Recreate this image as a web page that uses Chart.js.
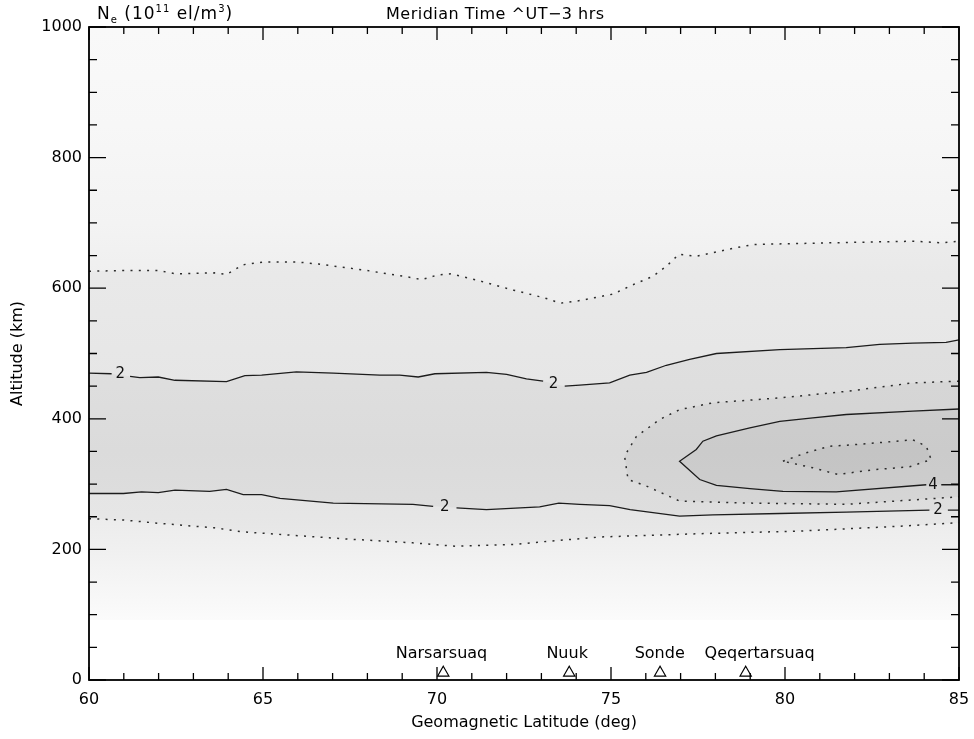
<!DOCTYPE html>
<html>
<head>
<meta charset="utf-8">
<script src="https://cdn.jsdelivr.net/npm/chart.js@4.4.0/dist/chart.umd.min.js"></script>
<style>
  html, body { margin: 0; padding: 0; background: #fff; }
</style>
</head>
<body>
<canvas id="chart" width="974" height="739"></canvas>
<script>
// axis ticks
const xTicks = [60, 65, 70, 75, 80, 85];
const yTicks = [0, 200, 400, 600, 800, 1000];

// model grid extent (lat, km)
const fieldLat = [60, 85];
const fieldKm = [92, 1000];

// contour lines: [lat, km], null km = gap for the label
const contour1Upper = [[60, 626], [61, 627], [62, 627], [62.5, 622], [63.6, 623.5], [63.95, 621], [64.43, 636],
  [65, 640], [66, 640], [66.6, 637], [68, 627], [69.3, 616], [69.55, 613], [70, 620], [70.4, 622], [71.1, 613],
  [72.2, 597], [73.1, 585], [73.55, 577], [74.1, 581], [75.06, 591], [75.7, 607], [76.2, 618], [76.6, 634],
  [76.95, 652], [77.45, 649], [78.6, 662], [79.1, 667], [81.8, 670], [83.7, 672], [84.5, 669.5], [85, 672]];
const contour1Lower = [[60, 247], [61, 245], [62, 240], [63.6, 233], [64.4, 227], [66, 221], [67.4, 216],
  [69.3, 210], [70.5, 205], [72.2, 207.5], [73.2, 212.5], [74.7, 219], [77.5, 224], [80.4, 228], [83.3, 235.5], [85, 241]];
const contour2Upper = [[60, 470], [60.65, 469], [60.9, null], [61.18, 465], [61.46, 463], [61.99, 464], [62.47, 459],
  [63.95, 457], [64.48, 466], [64.96, 467], [65.96, 472], [67.02, 470], [68.36, 467], [68.93, 467], [69.46, 464],
  [69.94, 469], [71.42, 471], [72.0, 468], [72.57, 461], [73.05, 457.6], [73.35, null], [73.67, 450], [74.1, 451.5],
  [74.96, 455], [75.54, 467], [76.02, 471], [76.59, 482], [77.26, 491], [78.03, 500], [79.85, 506], [81.76, 509],
  [82.72, 514], [83.67, 516], [84.63, 517], [85, 521]];
const contour2Lower = [[60, 285.6], [60.99, 285.6], [61.51, 288], [61.99, 287], [62.47, 290.7], [63.47, 289],
  [63.95, 292], [64.43, 284], [64.96, 284], [65.49, 278], [67.02, 271], [69.31, 269], [69.89, 266], [70.22, null],
  [70.56, 263.7], [71.42, 261], [72.95, 265], [73.5, 271], [74.1, 269], [74.96, 267], [75.55, 261], [76.97, 251],
  [77.93, 253], [79.85, 255], [81.76, 257], [84.15, 260], [84.4, null], [84.68, 260], [85, 260]];
const contour3 = [[85, 457.6], [83.67, 455], [81.76, 442], [79.85, 432], [77.93, 424.5], [76.97, 414], [76.4, 399],
  [75.73, 373], [75.39, 343], [75.49, 307], [76.02, 297], [76.97, 274], [78.89, 271], [81.76, 269], [85, 280.5]];
const contour4 = [[85, 415], [83.67, 411.6], [81.76, 406.6], [80.8, 401.5], [79.85, 396], [78.99, 386], [78.03, 374],
  [77.64, 365.7], [77.45, 353], [76.97, 335], [77.55, 307], [78.03, 298], [78.99, 293], [79.94, 289], [81.47, 288],
  [84.06, 299], [84.25, null], [84.49, 299], [85, 299]];
const contour5 = [[79.94, 335], [80.61, 348], [81.28, 358], [82.05, 360.6], [83.2, 365.7], [83.67, 368], [84.06, 358],
  [84.2, 337.6], [83.58, 326.5], [82.53, 322], [81.52, 314.7], [80.8, 325], [79.94, 335]];

// contour labels
const labelText = ['2', '2', '2', '2', '4'];
const labelLat = [60.9, 73.35, 70.22, 84.4, 84.25];
const labelKm = [468, 452.5, 264, 260, 299];

// ground stations
const stationNames = ['Narsarsuaq', 'Nuuk', 'Sonde', 'Qeqertarsuaq'];
const stationLat = [70.18, 73.8, 76.41, 78.87];
const stationLabelLat = [70.13, 73.74, 76.4, 79.27];
const stationKm = 11;

// grey shading of the density field
const shadeKm = [1000, 850, 700, 620, 450, 350, 250, 200, 150, 110, 92];
const shadeGray = [249, 247, 243, 239, 236, 233, 236, 240, 245, 249, 251];

const FONT = 'DejaVu Sans';
Chart.defaults.font.family = FONT;

function pts(list) {
  return list.map(p => ({ x: p[0], y: p[1] }));
}
function solid(list) {
  return list.filter(p => p[1] !== null);
}
function band(upper, lower) {
  return pts(solid(upper).concat(solid(lower).reverse()));
}

function fieldGradient(context) {
  const chart = context.chart;
  const area = chart.chartArea;
  if (!area) return 'rgba(0,0,0,0)';
  const y = chart.scales.y;
  const top = y.getPixelForValue(1000), bottom = y.getPixelForValue(0);
  const g = chart.ctx.createLinearGradient(0, top, 0, bottom);
  shadeKm.forEach((km, i) => {
    const f = (y.getPixelForValue(km) - top) / (bottom - top);
    const v = shadeGray[i];
    g.addColorStop(Math.min(1, Math.max(0, f)), `rgb(${v},${v},${v})`);
  });
  return g;
}

function shade(data, color, order) {
  return {
    data, order, fill: 'shape', backgroundColor: color,
    borderColor: 'rgba(0,0,0,0)', borderWidth: 1, pointRadius: 0, tension: 0
  };
}
function contour(list, dotted) {
  return {
    data: pts(list), order: 5, fill: false, spanGaps: false,
    borderColor: dotted ? '#2b2b2b' : '#1c1c1c',
    borderWidth: dotted ? 1.5 : 1.3,
    borderDash: dotted ? [2, 6.3] : [],
    pointRadius: 0, tension: 0
  };
}

const datasets = [
  shade(pts([[fieldLat[0], fieldKm[0]], [fieldLat[1], fieldKm[0]], [fieldLat[1], fieldKm[1]], [fieldLat[0], fieldKm[1]]]), fieldGradient, 20),
  shade(band(contour1Upper, contour1Lower), 'rgba(0,0,0,0.025)', 19),
  shade(band(contour2Upper, contour2Lower), 'rgba(0,0,0,0.03)', 18),
  shade(pts(solid(contour3)), 'rgba(0,0,0,0.035)', 17),
  shade(pts(solid(contour4)), 'rgba(0,0,0,0.035)', 16),
  shade(pts(contour5), 'rgba(0,0,0,0.03)', 15),
  contour(contour1Upper, true),
  contour(contour1Lower, true),
  contour(contour2Upper, false),
  contour(contour2Lower, false),
  contour(contour3, true),
  contour(contour4, false),
  contour(contour5, true),
  {
    data: stationLat.map(v => ({ x: v, y: stationKm })), order: 1, showLine: false,
    pointStyle: 'triangle', pointRadius: 6.5, pointBorderWidth: 1.2,
    pointBorderColor: '#000', pointBackgroundColor: 'rgba(0,0,0,0)'
  }
];

const decor = {
  id: 'decor',
  afterDatasetsDraw(chart) {
    const { ctx, chartArea: a, scales: { x, y } } = chart;
    ctx.save();
    // ticks pointing inwards on all four sides
    ctx.strokeStyle = '#000';
    ctx.lineWidth = 1.3;
    ctx.beginPath();
    for (let v = xTicks[0]; v <= xTicks[xTicks.length - 1]; v += 1) {
      const px = x.getPixelForValue(v);
      const len = xTicks.includes(v) ? 13 : 7;
      ctx.moveTo(px, a.bottom); ctx.lineTo(px, a.bottom - len);
      ctx.moveTo(px, a.top); ctx.lineTo(px, a.top + len);
    }
    for (let v = yTicks[0]; v <= yTicks[yTicks.length - 1]; v += 50) {
      const py = y.getPixelForValue(v);
      const len = yTicks.includes(v) ? 17 : 8;
      ctx.moveTo(a.left, py); ctx.lineTo(a.left + len, py);
      ctx.moveTo(a.right, py); ctx.lineTo(a.right - len, py);
    }
    ctx.stroke();
    ctx.lineWidth = 1.8;
    ctx.strokeRect(a.left, a.top, a.right - a.left, a.bottom - a.top);

    // contour labels
    ctx.fillStyle = '#111';
    ctx.font = `15px "${FONT}"`;
    ctx.textAlign = 'center';
    ctx.textBaseline = 'middle';
    labelText.forEach((t, i) => {
      ctx.fillText(t, x.getPixelForValue(labelLat[i]), y.getPixelForValue(labelKm[i]));
    });

    // station names
    ctx.fillStyle = '#000';
    ctx.font = `16px "${FONT}"`;
    ctx.textBaseline = 'alphabetic';
    stationNames.forEach((n, i) => {
      ctx.fillText(n, x.getPixelForValue(stationLabelLat[i]), y.getPixelForValue(stationKm) - 15);
    });

    // header texts
    const base = 19;
    let cx = a.left + 8;
    ctx.textAlign = 'left';
    ctx.letterSpacing = '1px';
    const part = (t, size, dy) => {
      ctx.font = `${size}px "${FONT}"`;
      ctx.fillText(t, cx, base + dy);
      cx += ctx.measureText(t).width;
    };
    part('N', 17, 0); part('e', 10, 4); part(' (10', 17, 0); part('11', 10, -7);
    part(' el/m', 17, 0); part('3', 10, -7); part(')', 17, 0);
    ctx.letterSpacing = '0.5px';
    ctx.font = `16px "${FONT}"`;
    ctx.fillText('Meridian Time ^UT\u22123 hrs', 386, base);
    ctx.restore();
  }
};

new Chart(document.getElementById('chart'), {
  type: 'line',
  data: { datasets },
  options: {
    responsive: false,
    animation: false,
    devicePixelRatio: 1,
    layout: { padding: { top: 27, right: 15, left: 0, bottom: 0 } },
    plugins: { legend: { display: false }, tooltip: { enabled: false } },
    scales: {
      x: {
        type: 'linear', min: 60, max: 85,
        grid: { display: false, drawTicks: false },
        border: { display: false },
        afterBuildTicks: s => { s.ticks = xTicks.map(v => ({ value: v })); },
        afterFit: s => { s.height = 59; s.paddingLeft = 0; s.paddingRight = 0; },
        ticks: { padding: 10, color: '#000', font: { size: 16 }, maxRotation: 0, autoSkip: false, callback: v => String(v) },
        title: { display: true, text: 'Geomagnetic Latitude (deg)', color: '#000', font: { size: 16 }, padding: { top: 0, bottom: 7 } }
      },
      y: {
        type: 'linear', min: 0, max: 1000,
        grid: { display: false, drawTicks: false },
        border: { display: false },
        afterBuildTicks: s => { s.ticks = yTicks.map(v => ({ value: v })); },
        afterFit: s => { s.width = 89; s.paddingTop = 0; s.paddingBottom = 0; },
        ticks: { padding: 7, color: '#000', font: { size: 16 }, autoSkip: false, callback: v => String(v) },
        title: { display: true, text: 'Altitude (km)', color: '#000', font: { size: 16 }, padding: { top: 8, bottom: 0 } }
      }
    }
  },
  plugins: [decor]
});
</script>
</body>
</html>
